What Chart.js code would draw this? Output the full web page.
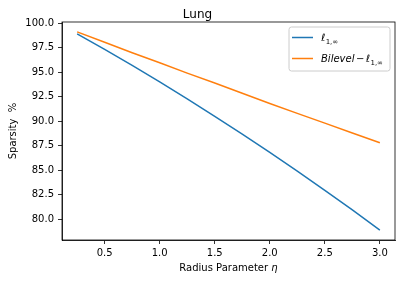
<!DOCTYPE html>
<html><head><meta charset="utf-8">
<script src="https://cdn.jsdelivr.net/npm/chart.js@4.4.0/dist/chart.umd.min.js"></script>
<style>html,body{margin:0;padding:0;background:#fff;} #wrap{width:402px;height:282px;}</style>
</head><body><div id="wrap"><canvas id="c" width="402" height="282"></canvas></div>
<script>
const radius = [0.25, 0.5, 0.75, 1.0, 1.25, 1.5, 1.75, 2.0, 2.25, 2.5, 2.75, 3.0];
const l1inf = [98.9, 97.31, 95.68, 94.0, 92.28, 90.5, 88.69, 86.82, 84.91, 82.95, 80.95, 78.9];
const bilevel = [99.1, 98.05, 96.98, 95.95, 94.9, 93.9, 92.85, 91.8, 90.8, 89.8, 88.8, 87.8];
const xTicks = [0.5, 1.0, 1.5, 2.0, 2.5, 3.0];
const yTicks = [80.0, 82.5, 85.0, 87.5, 90.0, 92.5, 95.0, 97.5, 100.0];
const seriesNames = ['ℓ1,∞', 'Bilevel − ℓ1,∞'];
const chartTitle = 'Lung';
const xLabelParts = ['Radius Parameter ', 'η'];
const yLabel = 'Sparsity  %';
const colors = ['#1f77b4', '#ff7f0e'];

const FONT = 'DejaVu Sans';

const framePlugin = {
  id: 'frame',
  afterDatasetsDraw(chart) {
    const {ctx, chartArea: a} = chart;
    ctx.save();
    ctx.strokeStyle = '#000';
    ctx.lineWidth = 0.8;
    ctx.strokeRect(a.left, a.top, a.right - a.left, a.bottom - a.top);
    ctx.restore();
  }
};

function measureParts(ctx, parts) {
  let w = 0;
  parts.forEach(p => { ctx.font = p.f; w += (p.pre || 0) + ctx.measureText(p.t).width + (p.post || 0); });
  return w;
}
function drawParts(ctx, x, y, parts) {
  let cx = x;
  parts.forEach(p => {
    ctx.font = p.f;
    cx += (p.pre || 0);
    ctx.fillText(p.t, cx, y + (p.dy || 0));
    cx += ctx.measureText(p.t).width + (p.post || 0);
  });
}

const it = 'italic 10px "' + FONT + '"';
const rg = '10px "' + FONT + '"';
const sb = '7px "' + FONT + '"';

const xTitlePlugin = {
  id: 'xTitle',
  afterDraw(chart) {
    const {ctx, chartArea: a} = chart;
    ctx.save();
    ctx.fillStyle = '#000';
    ctx.textBaseline = 'middle';
    const parts = [{t: xLabelParts[0], f: rg}, {t: xLabelParts[1], f: it}];
    const w = measureParts(ctx, parts);
    drawParts(ctx, (a.left + a.right) / 2 - w / 2, 268, parts);
    ctx.restore();
  }
};

const legendPlugin = {
  id: 'mathLegend',
  afterDraw(chart) {
    const {ctx, chartArea: a} = chart;
    const bw = 101, bh = 44;
    const bx = a.right - 5 - bw, by = a.top + 5;
    ctx.save();
    ctx.beginPath();
    const r = 2.5;
    ctx.moveTo(bx + r, by);
    ctx.arcTo(bx + bw, by, bx + bw, by + bh, r);
    ctx.arcTo(bx + bw, by + bh, bx, by + bh, r);
    ctx.arcTo(bx, by + bh, bx, by, r);
    ctx.arcTo(bx, by, bx + bw, by, r);
    ctx.closePath();
    ctx.fillStyle = 'rgba(255,255,255,0.8)';
    ctx.fill();
    ctx.strokeStyle = '#cccccc';
    ctx.lineWidth = 1;
    ctx.stroke();
    const partsList = [
      [{t: 'ℓ', f: it}, {t: '1,∞', f: sb, dy: 2.5, pre: 0.5}],
      [{t: 'Bilevel', f: it, post: 1.5}, {t: '−', f: rg, post: 1.5}, {t: 'ℓ', f: it}, {t: '1,∞', f: sb, dy: 2.5, pre: 0.5}]
    ];
    chart.data.datasets.forEach((ds, i) => {
      const ry = by + 10.5 + i * 21;
      ctx.strokeStyle = ds.borderColor;
      ctx.lineWidth = 1.5;
      ctx.beginPath();
      ctx.moveTo(bx + 3, ry);
      ctx.lineTo(bx + 24, ry);
      ctx.stroke();
      ctx.fillStyle = '#000';
      ctx.textBaseline = 'alphabetic';
      drawParts(ctx, bx + 32, ry + 3.5, partsList[i]);
    });
    ctx.restore();
  }
};

new Chart(document.getElementById('c'), {
  type: 'line',
  data: {
    labels: radius,
    datasets: [
      {label: seriesNames[0], data: radius.map((x, i) => ({x, y: l1inf[i]})), borderColor: colors[0], backgroundColor: colors[0], borderWidth: 1.5, pointRadius: 0, tension: 0, fill: false},
      {label: seriesNames[1], data: radius.map((x, i) => ({x, y: bilevel[i]})), borderColor: colors[1], backgroundColor: colors[1], borderWidth: 1.5, pointRadius: 0, tension: 0, fill: false}
    ]
  },
  options: {
    responsive: false,
    animation: false,
    devicePixelRatio: 1,
    layout: {padding: {top: 0, right: 7, left: 0, bottom: 0}},
    plugins: {
      legend: {display: false},
      tooltip: {enabled: false},
      title: {display: true, text: chartTitle, color: '#000', font: {family: FONT, size: 12, weight: 'normal', lineHeight: '14px'}, padding: {top: 8, bottom: 0}}
    },
    scales: {
      x: {
        type: 'linear',
        min: 0.1125, max: 3.1375,
        afterBuildTicks(s) { s.ticks = xTicks.map(v => ({value: v})); },
        afterFit(s) { s.height = 42; },
        grid: {display: true, drawOnChartArea: false, drawTicks: true, tickLength: 4, tickColor: '#000', tickWidth: 0.8},
        border: {display: true, color: '#000', width: 0.8},
        ticks: {color: '#000', font: {family: FONT, size: 10}, padding: 3, maxRotation: 0, callback: v => v.toFixed(1)},
        title: {display: false}
      },
      y: {
        type: 'linear',
        min: 77.89, max: 100.11,
        afterBuildTicks(s) { s.ticks = yTicks.map(v => ({value: v})); },
        afterFit(s) { s.width = 62; },
        grid: {display: true, drawOnChartArea: false, drawTicks: true, tickLength: 4, tickColor: '#000', tickWidth: 0.8},
        border: {display: true, color: '#000', width: 0.8},
        ticks: {color: '#000', font: {family: FONT, size: 10}, padding: 4, callback: v => v.toFixed(1)},
        title: {display: true, text: yLabel, color: '#000', font: {family: FONT, size: 10, lineHeight: 1.2}, padding: {top: 7, bottom: 0}}
      }
    }
  },
  plugins: [framePlugin, legendPlugin, xTitlePlugin]
});
</script>
</body></html>
